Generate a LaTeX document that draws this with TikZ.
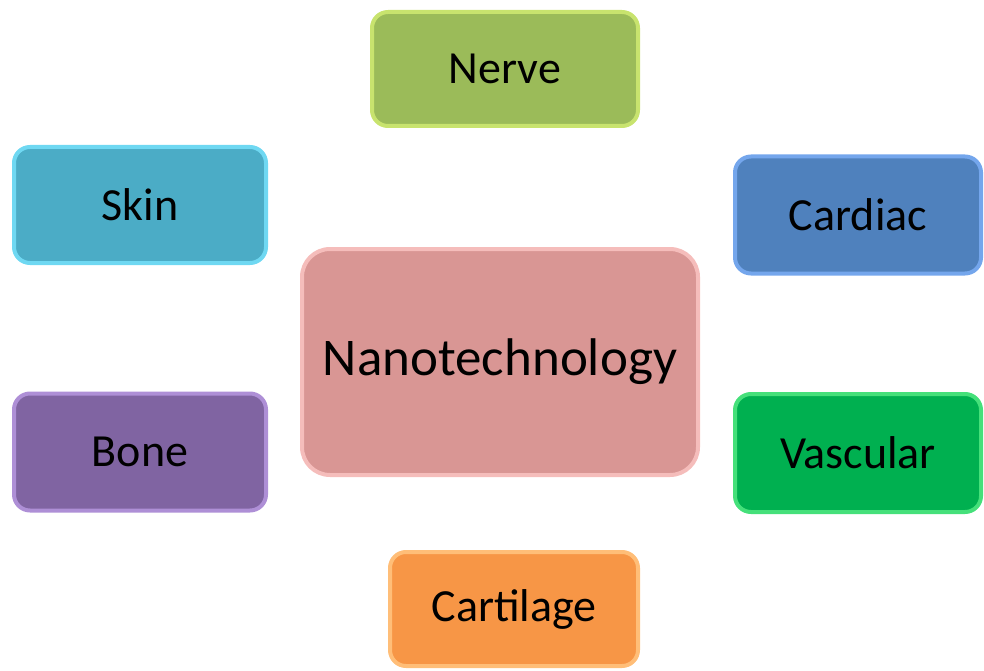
\documentclass[tikz,border=0pt]{standalone}
\usepackage{fontspec}
\setmainfont{Carlito}
\definecolor{nerveF}{HTML}{9BBB59}\definecolor{nerveB}{HTML}{C8E36E}
\definecolor{skinF}{HTML}{4BACC6}\definecolor{skinB}{HTML}{6FD8F2}
\definecolor{cardF}{HTML}{4F81BD}\definecolor{cardB}{HTML}{74A6EC}
\definecolor{nanoF}{HTML}{D99694}\definecolor{nanoB}{HTML}{F5BDBB}
\definecolor{boneF}{HTML}{8064A2}\definecolor{boneB}{HTML}{AE8FD6}
\definecolor{vascF}{HTML}{00B050}\definecolor{vascB}{HTML}{45E07A}
\definecolor{cartF}{HTML}{F79646}\definecolor{cartB}{HTML}{FFBE78}
\tikzset{
  box/.style args={#1/#2}{draw=#2, fill=#1, line width=4pt, rounded corners=16pt,
    font=\fontsize{46}{56}\selectfont, text=black, inner sep=0pt},
}
\begin{document}
\begin{tikzpicture}[x=1pt,y=-1pt]
\useasboundingbox (0,0) rectangle (984,671);
\node[box=nerveF/nerveB, minimum width=266pt, minimum height=114pt] (nerve) at (505,69) {Nerve};
\node[box=skinF/skinB, minimum width=252pt, minimum height=116pt] (skin) at (140,205) {Skin};
\node[box=cardF/cardB, minimum width=246pt, minimum height=117pt] (cardiac) at (858,215) {Cardiac};
\node[box=nanoF/nanoB, minimum width=396pt, minimum height=226pt, rounded corners=28pt, font=\fontsize{53}{63}\selectfont] (nano) at (500,362) {Nanotechnology};
\node[box=boneF/boneB, minimum width=252pt, minimum height=117pt] (bone) at (140,452) {Bone};
\node[box=vascF/vascB, minimum width=246pt, minimum height=118pt] (vascular) at (858,453) {Vascular};
\node[box=cartF/cartB, minimum width=248pt, minimum height=114pt] (cartilage) at (514,609) {Cartilage};
\end{tikzpicture}
\end{document}
